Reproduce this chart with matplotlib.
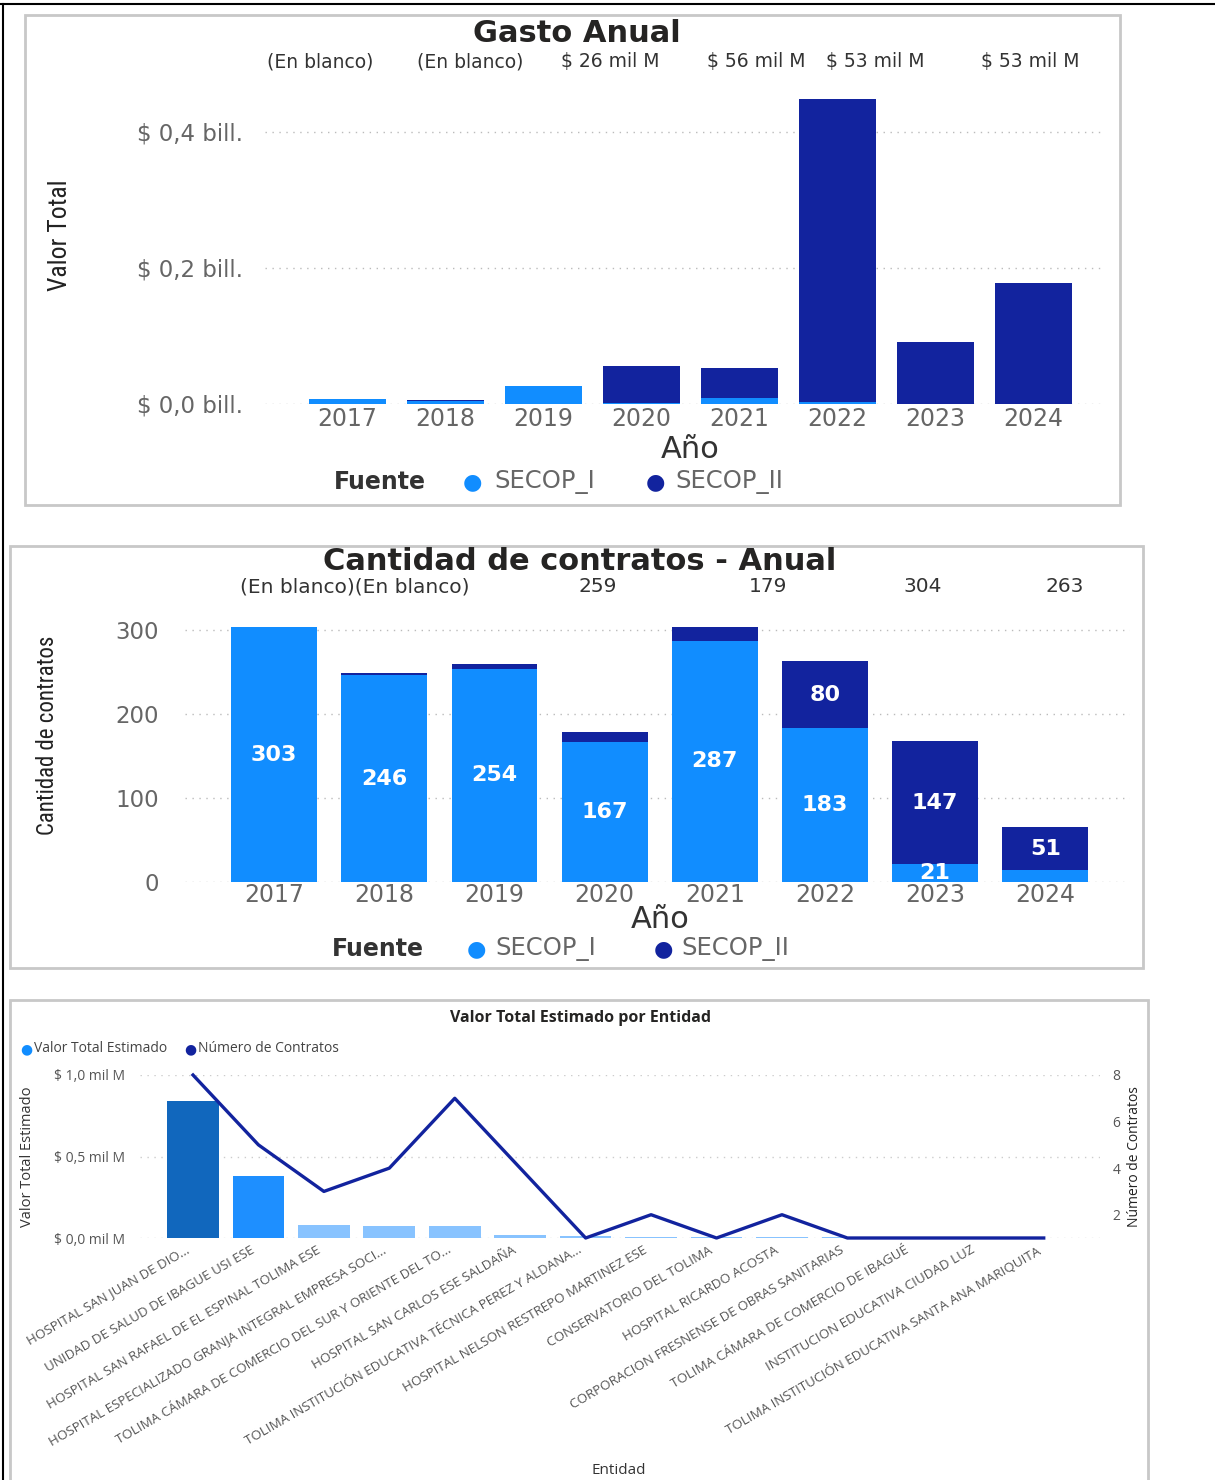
import numpy as np
import matplotlib.pyplot as plt
import matplotlib.transforms as mtransforms
from matplotlib.patches import Rectangle
from matplotlib.lines import Line2D

# ---- data ----
years = ['2017', '2018', '2019', '2020', '2021', '2022', '2023', '2024']

# Gasto anual (billones)
gasto_secop1 = [0.007, 0.005, 0.026, 0.002, 0.009, 0.003, 0.0, 0.0]
gasto_secop2 = [0.0, 0.001, 0.0, 0.054, 0.044, 0.446, 0.091, 0.178]
gasto_top_labels = ['(En blanco)', '(En blanco)', '$ 26 mil M', '$ 56 mil M', '$ 53 mil M', '$ 53 mil M']

# Cantidad de contratos
n_secop1 = [303, 246, 254, 167, 287, 183, 21, 14]
n_secop2 = [0, 3, 5, 12, 17, 80, 147, 51]
cant_top_labels = ['(En blanco)(En blanco)', '259', '179', '304', '263']

# Valor total estimado por entidad
entidades = [
    'HOSPITAL SAN JUAN DE DIO...',
    'UNIDAD DE SALUD DE IBAGUE USI ESE',
    'HOSPITAL SAN RAFAEL DE EL ESPINAL TOLIMA ESE',
    'HOSPITAL ESPECIALIZADO GRANJA INTEGRAL EMPRESA SOCI...',
    'TOLIMA CÁMARA DE COMERCIO DEL SUR Y ORIENTE DEL TO...',
    'HOSPITAL SAN CARLOS ESE SALDAÑA',
    'TOLIMA INSTITUCIÓN EDUCATIVA TÉCNICA PEREZ Y ALDANA...',
    'HOSPITAL NELSON RESTREPO MARTINEZ ESE',
    'CONSERVATORIO DEL TOLIMA',
    'HOSPITAL RICARDO ACOSTA',
    'CORPORACION FRESNENSE DE OBRAS SANITARIAS',
    'TOLIMA CÁMARA DE COMERCIO DE IBAGUÉ',
    'INSTITUCION EDUCATIVA CIUDAD LUZ',
    'TOLIMA INSTITUCIÓN EDUCATIVA SANTA ANA MARIQUITA',
]
valor_estimado = [0.84, 0.38, 0.08, 0.075, 0.074, 0.018, 0.012, 0.008, 0.007, 0.006, 0.005, 0.004, 0.004, 0.003]
num_contratos = [8, 5, 3, 4, 7, 4, 1, 2, 1, 2, 1, 1, 1, 1]

# ---- style ----
C1 = '#118DFF'
C2 = '#12239E'
GRAY = '#666666'
bar_colors = ['#1167BD', '#1E8FFF'] + ['#88C3FF'] * 12
NARROW = ['Roboto Condensed', 'Liberation Sans Narrow', 'DejaVu Sans']

W, H = 1215, 1480
fig = plt.figure(figsize=(W / 100, H / 100), dpi=100)


def ax_px(x0, y0, x1, y1):
    return fig.add_axes([x0 / W, 1 - y1 / H, (x1 - x0) / W, (y1 - y0) / H])


def ftext(x, y, s, **kw):
    kw.setdefault('ha', 'center')
    kw.setdefault('va', 'center')
    return fig.text(x / W, 1 - y / H, s, **kw)


def frame(x0, y0, x1, y1, color='#C8C8C8', lw=2):
    fig.add_artist(Rectangle((x0 / W, 1 - y1 / H), (x1 - x0) / W, (y1 - y0) / H,
                             transform=fig.transFigure, fill=False, ec=color, lw=lw))


def clean(ax):
    for s in ax.spines.values():
        s.set_visible(False)
    ax.tick_params(length=0)


# outer black lines
fig.add_artist(Line2D([0, 1], [1 - 4 / H, 1 - 4 / H], transform=fig.transFigure, color='black', lw=1.5))
fig.add_artist(Line2D([3 / W, 3 / W], [0, 1 - 4 / H], transform=fig.transFigure, color='black', lw=1.5))

# ================= Gasto Anual =================
frame(25, 15, 1120, 505)
x = np.arange(len(years))
ax1 = ax_px(265, 98, 1105, 404)
clean(ax1)
ax1.bar(x, gasto_secop1, width=0.79, color=C1, zorder=2)
ax1.bar(x, gasto_secop2, width=0.79, bottom=gasto_secop1, color=C2, zorder=2)
ax1.set_xlim(-0.84, 7.73)
ax1.set_ylim(0, 0.45)
ax1.set_yticks([0, 0.2, 0.4])
ax1.set_yticklabels(['$ 0,0 bill.', '$ 0,2 bill.', '$ 0,4 bill.'], color=GRAY, fontsize=16.5)
ax1.tick_params(axis='y', pad=16)
ax1.set_xticks(x)
ax1.set_xticklabels(years, color=GRAY, fontsize=17)
ax1.tick_params(axis='x', pad=2)
ax1.grid(axis='y', color='#BBBBBB', ls=(0, (1, 4)), lw=1)
ax1.set_axisbelow(True)

ftext(577, 33, 'Gasto Anual', fontsize=22, fontweight='bold', color='#252423')
for lab, xp in zip(gasto_top_labels, [267, 417, 561, 707, 826, 981]):
    ftext(xp, 62, lab, ha='left', fontsize=13.5, color='#333333')
ftext(60, 235, 'Valor Total', rotation=90, fontsize=18.5, color='#222222',
      family=NARROW, fontstretch='condensed')
ftext(690, 449, 'Año', fontsize=22, color='#333333')
ftext(380, 482, 'Fuente', fontsize=17, fontweight='bold', color='#333333')
ftext(472, 482, '●', fontsize=16, color=C1)
ftext(494, 482, 'SECOP_I', ha='left', fontsize=17.5, color=GRAY)
ftext(655, 482, '●', fontsize=16, color=C2)
ftext(675, 482, 'SECOP_II', ha='left', fontsize=17.5, color=GRAY)

# ================= Cantidad de contratos =================
frame(10, 546, 1143, 968)
ax2 = ax_px(185, 621.6, 1130, 882)
clean(ax2)
ax2.bar(x, n_secop1, width=0.78, color=C1, zorder=2)
ax2.bar(x, n_secop2, width=0.78, bottom=n_secop1, color=C2, zorder=2)
ax2.set_xlim(-0.81, 7.77)
ax2.set_ylim(0, 310)
ax2.set_yticks([0, 100, 200, 300])
ax2.set_yticklabels(['0', '100', '200', '300'], color=GRAY, fontsize=16.5)
ax2.tick_params(axis='y', pad=19)
ax2.set_xticks(x)
ax2.set_xticklabels(years, color=GRAY, fontsize=17)
ax2.tick_params(axis='x', pad=1)
ax2.grid(axis='y', color='#BBBBBB', ls=(0, (1, 4)), lw=1)
ax2.set_axisbelow(True)
for i in range(len(years)):
    if n_secop1[i] >= 20:
        ax2.text(i, n_secop1[i] / 2, str(n_secop1[i]), ha='center', va='center',
                 color='white', fontsize=16, fontweight='bold', zorder=3)
    if n_secop2[i] >= 20:
        ax2.text(i, n_secop1[i] + n_secop2[i] / 2, str(n_secop2[i]), ha='center', va='center',
                 color='white', fontsize=16, fontweight='bold', zorder=3)

ftext(580, 561, 'Cantidad de contratos - Anual', fontsize=22, fontweight='bold', color='#252423')
ftext(240, 587, cant_top_labels[0], ha='left', fontsize=14.5, color='#333333')
for lab, xp in zip(cant_top_labels[1:], [598, 768, 923, 1065]):
    ftext(xp, 587, lab, fontsize=14.5, color='#333333')
ftext(48, 735, 'Cantidad de contratos', rotation=90, fontsize=16.5, color='#222222',
      family=NARROW, fontstretch='condensed')
ftext(660, 920, 'Año', fontsize=22, color='#333333')
ftext(378, 949, 'Fuente', fontsize=17, fontweight='bold', color='#333333')
ftext(476, 949, '●', fontsize=16, color=C1)
ftext(495, 949, 'SECOP_I', ha='left', fontsize=17.5, color=GRAY)
ftext(663, 949, '●', fontsize=16, color=C2)
ftext(681, 949, 'SECOP_II', ha='left', fontsize=17.5, color=GRAY)

# ================= Valor Total Estimado por Entidad =================
frame(10, 1000, 1148, 1490)
xe = np.arange(len(entidades))
ax3 = ax_px(140, 1075, 1100, 1238)
clean(ax3)
ax3.bar(xe, valor_estimado, width=0.79, color=bar_colors, zorder=2)
ax3.set_xlim(-0.81, 13.86)
ax3.set_ylim(0, 1.0)
ax3.set_yticks([0, 0.5, 1.0])
ax3.set_yticklabels(['$ 0,0 mil M', '$ 0,5 mil M', '$ 1,0 mil M'], color='#555555',
                    fontsize=10, family='Open Sans')
ax3.tick_params(axis='y', pad=11)
ax3.set_xticks(xe)
ax3.set_xticklabels(entidades, rotation=30, ha='right', rotation_mode='anchor',
                    color='#555555', fontsize=9.6, family='Open Sans')
ax3.tick_params(axis='x', pad=4)
shift = mtransforms.ScaledTranslation(-0.08, 0, fig.dpi_scale_trans)
for lab in ax3.get_xticklabels():
    lab.set_transform(lab.get_transform() + shift)
ax3.grid(axis='y', color='#CCCCCC', ls=(0, (1, 4)), lw=1)
ax3.set_axisbelow(True)

ax3b = ax3.twinx()
clean(ax3b)
ax3b.plot(xe, num_contratos, color=C2, lw=2.4, clip_on=False, zorder=3)
ax3b.set_ylim(1, 8)
ax3b.set_yticks([2, 4, 6, 8])
ax3b.set_yticklabels(['2', '4', '6', '8'], color='#555555', fontsize=10, family='Open Sans')
ax3b.tick_params(axis='y', pad=9)

ftext(580, 1018, 'Valor Total Estimado por Entidad', fontsize=11.5, fontweight='bold',
      color='#252423', family='Open Sans')
ftext(26, 1049, '●', fontsize=10, color=C1)
ftext(34, 1049, 'Valor Total Estimado', ha='left', fontsize=10, color='#444444', family='Open Sans')
ftext(190, 1049, '●', fontsize=10, color=C2)
ftext(198, 1049, 'Número de Contratos', ha='left', fontsize=10, color='#444444', family='Open Sans')
ftext(28, 1157, 'Valor Total Estimado', rotation=90, fontsize=10.5, color='#333333', family='Open Sans')
ftext(1135, 1157, 'Número de Contratos', rotation=90, fontsize=10, color='#222222', family='Open Sans')
ftext(619, 1470, 'Entidad', fontsize=11, color='#333333', family='Open Sans')

fig.savefig('out.png', dpi=100, facecolor='white')
